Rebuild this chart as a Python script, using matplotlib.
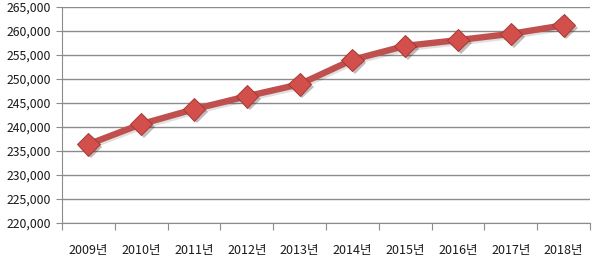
import matplotlib

matplotlib.use("Agg")
import matplotlib.pyplot as plt
import matplotlib.patheffects as pe
import numpy as np

YEARS = ["2009년", "2010년", "2011년", "2012년", "2013년",
         "2014년", "2015년", "2016년", "2017년", "2018년"]
VALUES = [236400, 240600, 243700, 246400, 248900,
          254000, 256900, 258100, 259400, 261200]
Y_TICKS = list(range(220000, 265001, 5000))

plt.rcParams["font.family"] = ["Noto Sans CJK KR", "DejaVu Sans"]

fig = plt.figure(figsize=(6.01, 2.63), dpi=100)
ax = fig.add_axes([62 / 601, 1 - 223 / 263, 528 / 601, 216 / 263])

x = np.arange(len(YEARS))
# soft drop shadow like the Excel original
line_fx = [pe.SimpleLineShadow(offset=(1, -1.5), shadow_color="#000000", alpha=0.12), pe.Normal()]
ax.plot(x, VALUES, color="#C0504D", lw=4.6, solid_capstyle="round", zorder=3,
        path_effects=line_fx)
ax.plot(x, VALUES, ls="none", marker="D", ms=11.5, mfc="#D24F4C", mec="#A33A37", mew=0.7,
        zorder=4, path_effects=[pe.SimplePatchShadow(offset=(2, -2), alpha=0.3), pe.Normal()])

ax.set_xlim(-0.5, len(YEARS) - 0.5)
ax.set_ylim(Y_TICKS[0], Y_TICKS[-1])
ax.set_yticks(Y_TICKS)
ax.set_yticklabels([f"{v:,}" for v in Y_TICKS], fontsize=8.8, color="#1a1a1a")
ax.yaxis.grid(True, color="#8c8c8c", lw=1)
ax.set_axisbelow(True)

ax.set_xticks(np.arange(len(YEARS) + 1) - 0.5)
ax.set_xticklabels([])
ax.set_xticks(x, minor=True)
ax.set_xticklabels(YEARS, minor=True, fontsize=9, color="#1a1a1a")
ax.tick_params(axis="x", which="major", length=5, color="#8c8c8c", direction="out")
ax.tick_params(axis="x", which="minor", length=0, pad=15)
ax.tick_params(axis="y", length=4, color="#8c8c8c", pad=4)

for s in ["top", "right"]:
    ax.spines[s].set_visible(False)
for s in ["left", "bottom"]:
    ax.spines[s].set_color("#8c8c8c")

fig.savefig("out.png", dpi=100)
